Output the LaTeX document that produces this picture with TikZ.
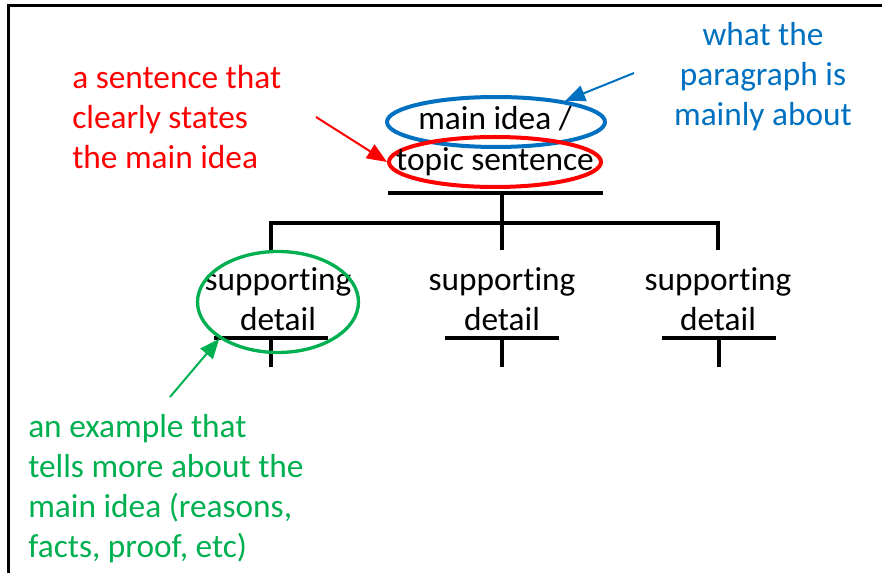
\documentclass[tikz,border=0pt]{standalone}
\usepackage{fontspec}
\setmainfont{Carlito}[Ligatures=NoCommon]
\usetikzlibrary{arrows.meta,shapes.geometric}
\definecolor{ablue}{RGB}{0,112,192}
\definecolor{agreen}{RGB}{0,176,80}
\tikzset{
  txt/.style={inner sep=0pt,align=center,anchor=base,font=\fontsize{25}{30}\selectfont},
  note/.style={txt,align=left,anchor=base west},
  ring/.style={ellipse,draw=#1,line width=3pt,inner sep=0pt},
  branch/.style={line width=3pt},
  arw/.style={draw=#1,line width=1.5pt,-{Triangle[length=15pt,width=12pt,fill=#1]}},
}

\begin{document}
\begin{tikzpicture}[x=0.75pt,y=-0.75pt]
  \useasboundingbox (0,0) rectangle (882,573);
  \draw[line width=1.8pt] (8.5,573) -- (8.5,5.5) -- (882,5.5);
  % main idea with its two rings
  \node[ring=ablue,minimum width=163.5pt,minimum height=37.5pt] (mainring) at (496,122) {};
  \node[ring=red,minimum width=159pt,minimum height=37.5pt] (topicring) at (495,162) {};
  \node[txt] (mainidea) at (495,130) {main idea /};
  \node[txt] (topic) at (495,171) {topic sentence};
  % tree (multi-line nodes sit on their last line)
  \coordinate (root) at (502,193);
  \foreach \x/\n in {271/1,502/2,718/3} \coordinate (leaf\n) at (\x,250);
  \draw[branch] (388,193) -- (603,193);
  \draw[branch] (root) -- (leaf2);
  \draw[branch] (leaf1) -- ++(0,-27) -| (leaf3);
  \node[txt] (detail1) at (278,331) {supporting\\detail};
  \node[txt] (detail2) at (502,331) {supporting\\detail};
  \node[txt] (detail3) at (718,331) {supporting\\detail};
  \foreach \x in {271,502,719} {
    \draw[branch] (\x-57,338) -- (\x+57,338);
    \draw[branch] (\x,338) -- (\x,367);
  }
  \node[ring=agreen,line width=2.5pt,minimum width=120.75pt,minimum height=75.75pt] (detailring) at (278,302) {};
  % notes
  \node[note,text=red] (rednote) at (72,169) {a sentence that\\clearly states\\the main idea};
  \node[txt,text=ablue] (bluenote) at (763,126) {what the\\paragraph is\\mainly about};
  \node[note,text=agreen] (greennote) at (28,557) {an example that\\tells more about the\\main idea (reasons,\\facts, proof, etc)};
  \coordinate (redtail) at (316,117);
  \coordinate (bluetail) at (634,73);
  \coordinate (greentail) at (170,397);
  \draw[arw=red] (redtail) -- (topicring.west);
  \draw[arw=ablue] (bluetail) -- (mainring.17);
  \draw[arw=agreen] (greentail) -- (detailring.212);
\end{tikzpicture}
\end{document}
